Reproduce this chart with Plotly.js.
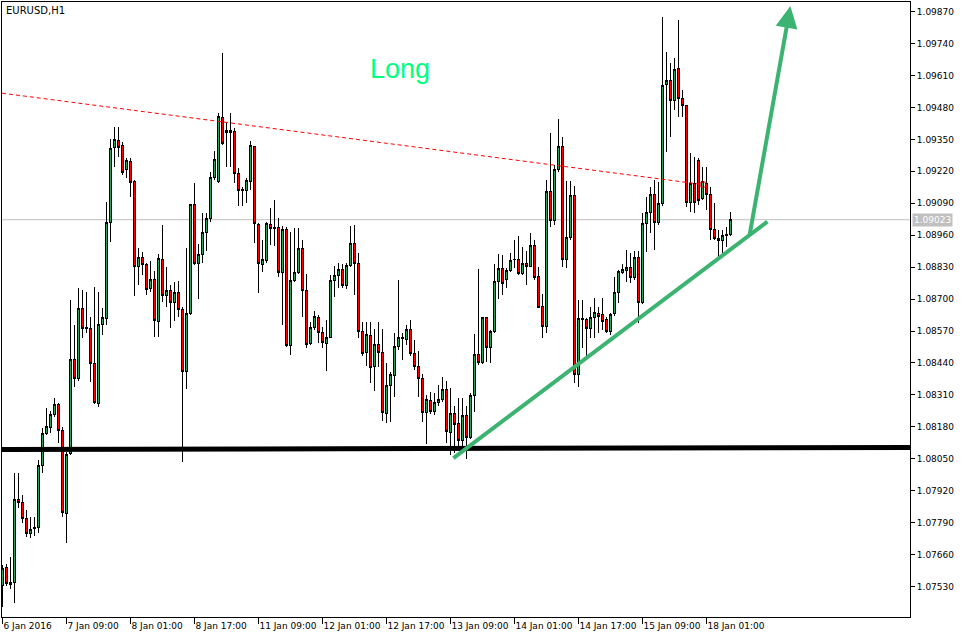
<!DOCTYPE html>
<html>
<head>
<meta charset="utf-8">
<script src="https://cdn.plot.ly/plotly-3.0.1.min.js"></script>
<style>html,body{margin:0;padding:0;background:#fff}#chart{width:963px;height:639px}
#chart .boxlayer path{shape-rendering:crispEdges}</style>
</head>
<body>
<div id="chart"></div>
<script>
// EURUSD H1 candles (index 0 = 6 Jan 2016 17:00)
const open = [1.07536,1.07609,1.07540,1.07548,1.07886,1.07874,1.07805,1.07744,1.07768,1.07772,
1.08024,1.08151,1.08179,1.08232,1.08269,1.08167,1.07829,1.08073,1.08456,1.08375,
1.08663,1.08582,1.08582,1.08439,1.08273,1.08598,1.08619,1.09013,1.09315,1.09347,
1.09323,1.09229,1.09258,1.09180,1.08834,1.08871,1.08842,1.08741,1.08781,1.08607,
1.08863,1.08716,1.08733,1.08688,1.08725,1.08659,1.08407,1.08643,1.09083,1.08846,
1.08883,1.08969,1.09026,1.09196,1.09180,1.09437,1.09376,1.09388,1.09380,1.09209,
1.09144,1.09140,1.09180,1.09319,1.09005,1.08842,1.08855,1.09005,1.08989,1.08993,
1.08810,1.08985,1.08509,1.08777,1.08810,1.08904,1.08733,1.08521,1.08586,1.08623,
1.08562,1.08521,1.08545,1.08777,1.08794,1.08822,1.08757,1.08838,1.08928,1.08846,
1.08566,1.08484,1.08550,1.08427,1.08517,1.08484,1.08236,1.08350,1.08387,1.08505,
1.08541,1.08537,1.08578,1.08480,1.08427,1.08375,1.08240,1.08289,1.08244,1.08277,
1.08293,1.08330,1.08155,1.08236,1.08195,1.08126,1.08228,1.08138,1.08309,1.08476,
1.08443,1.08623,1.08501,1.08570,1.08773,1.08826,1.08781,1.08818,1.08859,1.08859,
1.08806,1.08846,1.08834,1.08920,1.08790,1.08671,1.08590,1.09136,1.09018,1.09229,
1.09319,1.08863,1.08952,1.09123,1.08395,1.08615,1.08615,1.08582,1.08623,1.08643,
1.08639,1.08615,1.08570,1.08643,1.08725,1.08810,1.08818,1.08830,1.08786,1.08871,
1.08688,1.09009,1.09054,1.09127,1.09013,1.09087,1.09575,1.09591,1.09510,1.09640,
1.09518,1.09486,1.09095,1.09172,1.09262,1.09111,1.09172,1.09127,1.08985,1.08948,
1.08940,1.08960,1.08964];
const high = [1.07617,1.07622,1.07650,1.07992,1.07992,1.07902,1.07841,1.07813,1.07813,1.08045,
1.08175,1.08256,1.08244,1.08297,1.08277,1.08179,1.08077,1.08696,1.08594,1.08745,
1.08737,1.08729,1.08627,1.08749,1.08729,1.08663,1.09095,1.09351,1.09400,1.09400,
1.09339,1.09274,1.09274,1.09184,1.08907,1.08891,1.08846,1.08855,1.08814,1.08883,
1.09001,1.08830,1.08757,1.08769,1.08773,1.08667,1.08907,1.09087,1.09172,1.08924,
1.09050,1.09050,1.09217,1.09302,1.09457,1.09701,1.09416,1.09457,1.09396,1.09233,
1.09156,1.09192,1.09343,1.09323,1.09009,1.08940,1.09013,1.09070,1.09103,1.09030,
1.08997,1.08993,1.08973,1.08989,1.08989,1.08940,1.08802,1.08607,1.08651,1.08635,
1.08586,1.08615,1.08798,1.08834,1.08846,1.08842,1.08846,1.08997,1.09001,1.08887,
1.08607,1.08607,1.08607,1.08578,1.08607,1.08578,1.08439,1.08403,1.08562,1.08777,
1.08562,1.08594,1.08615,1.08533,1.08488,1.08395,1.08309,1.08322,1.08318,1.08350,
1.08383,1.08366,1.08338,1.08265,1.08297,1.08297,1.08265,1.08318,1.08558,1.08822,
1.08627,1.08627,1.08574,1.08842,1.08883,1.08879,1.08826,1.08887,1.08940,1.08956,
1.08912,1.08895,1.08969,1.08940,1.08830,1.08721,1.09184,1.09376,1.09245,1.09433,
1.09359,1.09180,1.09180,1.09160,1.08696,1.08696,1.08623,1.08667,1.08704,1.08667,
1.08704,1.08627,1.08643,1.08790,1.08818,1.08842,1.08899,1.08887,1.08895,1.08895,
1.09050,1.09115,1.09156,1.09184,1.09176,1.09848,1.09705,1.09661,1.09681,1.09836,
1.09551,1.09490,1.09294,1.09278,1.09274,1.09237,1.09237,1.09156,1.09091,1.08981,
1.08981,1.08993,1.09054];
const low = [1.07447,1.07532,1.07520,1.07463,1.07849,1.07788,1.07731,1.07727,1.07735,1.07748,
1.07992,1.08147,1.08155,1.08220,1.08114,1.07813,1.07707,1.08065,1.08342,1.08366,
1.08541,1.08562,1.08362,1.08273,1.08261,1.08554,1.08594,1.08932,1.09237,1.09278,
1.09205,1.09192,1.09115,1.08712,1.08757,1.08798,1.08716,1.08729,1.08545,1.08545,
1.08688,1.08667,1.08582,1.08611,1.08627,1.08037,1.08334,1.08635,1.08838,1.08700,
1.08846,1.08895,1.09013,1.09184,1.09172,1.09327,1.09237,1.09237,1.09172,1.09079,
1.09079,1.09091,1.09144,1.08928,1.08725,1.08810,1.08846,1.08920,1.08916,1.08790,
1.08594,1.08505,1.08472,1.08769,1.08802,1.08627,1.08501,1.08513,1.08574,1.08521,
1.08501,1.08407,1.08541,1.08708,1.08745,1.08745,1.08741,1.08830,1.08716,1.08541,
1.08468,1.08427,1.08358,1.08326,1.08423,1.08203,1.08195,1.08199,1.08301,1.08493,
1.08452,1.08513,1.08468,1.08411,1.08301,1.08199,1.08110,1.08232,1.08228,1.08265,
1.08281,1.08114,1.08065,1.08073,1.08098,1.08094,1.08049,1.08130,1.08240,1.08431,
1.08435,1.08443,1.08439,1.08562,1.08700,1.08716,1.08745,1.08810,1.08826,1.08798,
1.08798,1.08757,1.08830,1.08777,1.08663,1.08541,1.08562,1.08993,1.09001,1.09217,
1.08830,1.08826,1.08940,1.08358,1.08342,1.08501,1.08468,1.08541,1.08541,1.08562,
1.08574,1.08562,1.08554,1.08631,1.08684,1.08802,1.08769,1.08765,1.08777,1.08603,
1.08680,1.08891,1.08969,1.08899,1.09001,1.09079,1.09298,1.09359,1.09469,1.09441,
1.09441,1.09075,1.09054,1.09050,1.09083,1.09103,1.09062,1.08940,1.08940,1.08871,
1.08887,1.08912,1.08956];
const close = [1.07605,1.07544,1.07548,1.07886,1.07870,1.07805,1.07744,1.07764,1.07772,1.08024,
1.08151,1.08183,1.08232,1.08269,1.08167,1.07833,1.08069,1.08456,1.08375,1.08663,
1.08582,1.08586,1.08439,1.08281,1.08598,1.08623,1.09013,1.09311,1.09351,1.09315,
1.09217,1.09262,1.09176,1.08834,1.08871,1.08842,1.08737,1.08781,1.08611,1.08867,
1.08716,1.08733,1.08688,1.08725,1.08659,1.08407,1.08643,1.09083,1.08846,1.08883,
1.08969,1.09026,1.09196,1.09270,1.09441,1.09335,1.09388,1.09376,1.09209,1.09140,
1.09140,1.09184,1.09323,1.09009,1.08846,1.08859,1.09009,1.08989,1.08993,1.08810,
1.08985,1.08509,1.08777,1.08810,1.08904,1.08733,1.08517,1.08586,1.08627,1.08562,
1.08525,1.08545,1.08777,1.08794,1.08822,1.08757,1.08838,1.08928,1.08846,1.08566,
1.08480,1.08554,1.08423,1.08517,1.08484,1.08240,1.08350,1.08391,1.08505,1.08545,
1.08545,1.08578,1.08480,1.08427,1.08375,1.08240,1.08293,1.08244,1.08277,1.08293,
1.08330,1.08159,1.08236,1.08191,1.08126,1.08228,1.08138,1.08309,1.08476,1.08443,
1.08623,1.08501,1.08570,1.08773,1.08826,1.08765,1.08818,1.08855,1.08863,1.08806,
1.08846,1.08834,1.08916,1.08786,1.08667,1.08590,1.09136,1.09018,1.09229,1.09319,
1.08863,1.08952,1.09123,1.08395,1.08619,1.08619,1.08582,1.08623,1.08647,1.08631,
1.08607,1.08570,1.08639,1.08725,1.08814,1.08822,1.08830,1.08786,1.08871,1.08688,
1.09009,1.09054,1.09127,1.09013,1.09087,1.09571,1.09591,1.09510,1.09636,1.09518,
1.09486,1.09091,1.09172,1.09095,1.09103,1.09180,1.09127,1.08985,1.08948,1.08940,
1.08960,1.08964,1.09023];

const timeTickIdx = [0,16,32,48,64,80,96,112,128,144,160,176];
const timeTickText = ["6 Jan 2016","7 Jan 09:00","8 Jan 01:00","8 Jan 17:00","11 Jan 09:00",
  "12 Jan 01:00","12 Jan 17:00","13 Jan 09:00","14 Jan 01:00","14 Jan 17:00","15 Jan 09:00","18 Jan 01:00"];
const priceTicks = [1.07530,1.07660,1.07790,1.07920,1.08050,1.08180,1.08310,1.08440,1.08570,1.08700,
  1.08830,1.08960,1.09090,1.09220,1.09350,1.09480,1.09610,1.09740,1.09870];
const bidPrice = 1.09023;

// drawn objects (bar index, price)
const resistX = [-0.1, 175.25], resistY = [1.09538, 1.09166];
const supportX = [-0.1, 226.9], supportY = [1.08088, 1.08096];
const trendX = [112.75, 191.25], trendY = [1.08053, 1.09015];
const arrowTail = [186.75, 1.08956], arrowHead = [197, 1.09893];
const labelPos = [99.5, 1.09636];

const idx = open.map((_, i) => i);
const green = '#3CB371';

const traces = [
  {type:'candlestick', x: idx, open: open, high: high, low: low, close: close,
   increasing:{line:{color:'#000', width:1}, fillcolor:'#2FA35C'},
   decreasing:{line:{color:'#000', width:1}, fillcolor:'#FF0000'},
   whiskerwidth:0, hoverinfo:'skip', showlegend:false},
  {type:'scatter', mode:'lines', x: resistX, y: resistY,
   line:{color:'#FF0000', width:1, dash:'4px,3px'}, hoverinfo:'skip', showlegend:false},
  {type:'scatter', mode:'markers', x:[resistX[1]], y:[resistY[1]],
   marker:{symbol:'square-open', size:5, color:'#FF0000', line:{width:1}}, hoverinfo:'skip', showlegend:false},
  {type:'scatter', mode:'lines', x: supportX, y: supportY,
   line:{color:'#000', width:5}, hoverinfo:'skip', showlegend:false},
  {type:'scatter', mode:'lines', x: trendX, y: trendY,
   line:{color:green, width:4}, hoverinfo:'skip', showlegend:false}
];

const layout = {
  width: 963, height: 639,
  margin:{l:2, r:53, t:2, b:22, pad:0},
  paper_bgcolor:'#fff', plot_bgcolor:'#fff',
  font:{family:'DejaVu Sans', size:9, color:'#000'},
  boxgap: 0.35,
  showlegend:false,
  xaxis:{type:'linear', range:[-0.1, 226.9], rangeslider:{visible:false},
    tickmode:'array', tickvals: timeTickIdx, ticktext: timeTickText, tickangle:0,
    ticks:'outside', ticklen:6, tickcolor:'#000', tickwidth:1,
    ticklabelposition:'outside right',
    showgrid:false, zeroline:false, showline:true, linecolor:'#000', linewidth:1, mirror:true,
    fixedrange:true},
  yaxis:{side:'right', range:[1.07406, 1.09909],
    tickmode:'array', tickvals: priceTicks, ticktext: priceTicks.map(v => v.toFixed(5)),
    ticks:'outside', ticklen:4, tickcolor:'#000', tickwidth:1,
    showgrid:false, zeroline:false, showline:true, linecolor:'#000', linewidth:1, mirror:true,
    fixedrange:true},
  shapes:[
    {type:'line', xref:'paper', x0:0, x1:1, yref:'y', y0:bidPrice, y1:bidPrice,
     line:{color:'#C0C0C0', width:1}, layer:'below'}
  ],
  annotations:[
    {xref:'paper', yref:'paper', x:0, y:1, xanchor:'left', yanchor:'top', xshift:2, yshift:-1,
     text:'EURUSD,H1', showarrow:false, font:{family:'DejaVu Sans', size:10, color:'#000'}},
    {xref:'paper', yref:'y', x:1, y:bidPrice, xanchor:'left', yanchor:'middle', xshift:2,
     text: bidPrice.toFixed(5), showarrow:false, bgcolor:'#C0C0C0', borderpad:1,
     font:{family:'DejaVu Sans', size:9, color:'#fff'}},
    {xref:'x', yref:'y', x: labelPos[0], y: labelPos[1], text:'Long', showarrow:false,
     font:{family:'Liberation Sans', size:27, color:'#00FF7F'}},
    {xref:'x', yref:'y', axref:'x', ayref:'y', x: arrowHead[0], y: arrowHead[1],
     ax: arrowTail[0], ay: arrowTail[1], text:'', showarrow:true,
     arrowhead:2, arrowsize:1.1, arrowwidth:4, arrowcolor:green, standoff:0}
  ]
};

Plotly.newPlot('chart', traces, layout, {displayModeBar:false, staticPlot:true});
</script>
</body>
</html>
